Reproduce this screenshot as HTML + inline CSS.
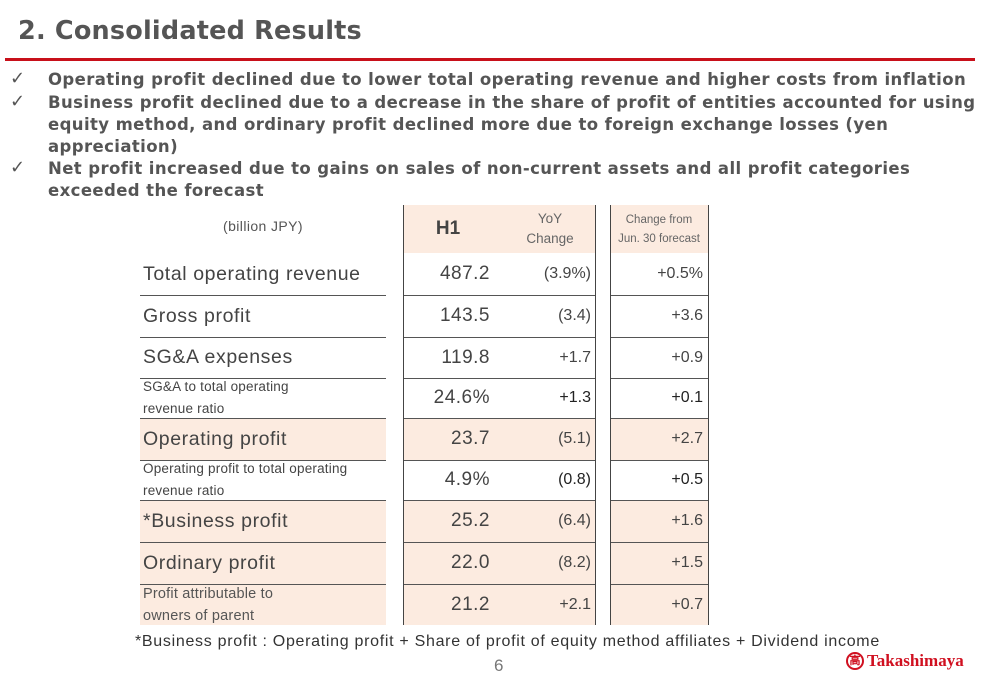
<!DOCTYPE html>
<html><head><meta charset="utf-8"><style>
body{margin:0;width:1000px;height:685px;background:#fff;position:relative;overflow:hidden;font-family:"Liberation Sans","DejaVu Sans",sans-serif;color:#444}
.a{position:absolute}
.title{left:18px;top:16px;font:bold 25.5px "DejaVu Sans",sans-serif;color:#555;letter-spacing:0.2px}
.redline{left:5px;top:58px;width:970px;height:3px;background:#c8101a}
.b{font:bold 16.5px "DejaVu Sans",sans-serif;color:#555;left:48px;line-height:22px;width:945px;white-space:nowrap;letter-spacing:0.4px}
.ck{left:10px;font-size:18px;color:#555}
.row{position:absolute;left:140px;width:568px}
.cell{position:absolute;top:0;height:100%;display:flex;align-items:center}
.lab{left:0;width:246px;padding-left:3px;box-sizing:border-box;font-size:19.5px;letter-spacing:0.6px;color:#444}
.lab.sm{font-size:13.5px;line-height:22px;letter-spacing:0.2px}
.h1{left:263px;width:87px;justify-content:flex-end;font-size:19px;letter-spacing:0.5px}
.yoy{left:375px;width:76px;justify-content:flex-end;font-size:16px}
.fc{left:470px;width:93px;justify-content:flex-end;font-size:16px}
.pk{background:#fcebe0}
.hl{position:absolute;height:1px;background:#555}
.vl{position:absolute;top:205px;height:420px;width:1px;background:#444}
</style></head><body>
<div class="a title">2. Consolidated Results</div>
<div class="a redline"></div>
<div class="a ck" style="top:68px">✓</div>
<div class="a b" style="top:69px">Operating profit declined due to lower total operating revenue and higher costs from inflation</div>
<div class="a ck" style="top:91px">✓</div>
<div class="a b" style="top:92px">Business profit declined due to a decrease in the share of profit of entities accounted for using<br>equity method, and ordinary profit declined more due to foreign exchange losses (yen<br>appreciation)</div>
<div class="a ck" style="top:157px">✓</div>
<div class="a b" style="top:158px">Net profit increased due to gains on sales of non-current assets and all profit categories<br>exceeded the forecast</div>

<div>
<div class="a pk" style="left:403px;top:205px;width:192px;height:48px"></div>
<div class="a pk" style="left:610px;top:205px;width:98px;height:48px"></div>
<div class="a" style="left:140px;top:218px;width:246px;text-align:center;font-size:14px;color:#555;letter-spacing:0.4px">(billion JPY)</div>
<div class="a" style="left:403px;top:218px;width:90px;text-align:center;font-size:19px;font-weight:bold;color:#444">H1</div>
<div class="a" style="left:510px;top:209px;width:80px;text-align:center;font-size:13.5px;line-height:20px;color:#666">YoY<br>Change</div>
<div class="a" style="left:608px;top:211px;width:102px;text-align:center;font-size:11.5px;line-height:19px;color:#666">Change from<br>Jun. 30 forecast</div>

<div class="row" style="top:253px;height:42px"><div class="cell lab">Total operating revenue</div><div class="cell h1">487.2</div><div class="cell yoy">(3.9%)</div><div class="cell fc">+0.5%</div></div>
<div class="row" style="top:295px;height:42px"><div class="cell lab">Gross profit</div><div class="cell h1">143.5</div><div class="cell yoy">(3.4)</div><div class="cell fc">+3.6</div></div>
<div class="row" style="top:337px;height:41px"><div class="cell lab">SG&amp;A expenses</div><div class="cell h1">119.8</div><div class="cell yoy">+1.7</div><div class="cell fc">+0.9</div></div>
<div class="row" style="top:378px;height:40px"><div class="cell lab sm">SG&amp;A to total operating<br>revenue ratio</div><div class="cell h1">24.6%</div><div class="cell yoy" style="color:#222">+1.3</div><div class="cell fc" style="color:#222">+0.1</div></div>
<div class="row" style="top:418px;height:42px"><div class="cell lab pk" style="width:246px">Operating profit</div><div class="cell pk" style="left:263px;width:192px"></div><div class="cell pk" style="left:470px;width:98px"></div><div class="cell h1">23.7</div><div class="cell yoy">(5.1)</div><div class="cell fc">+2.7</div></div>
<div class="row" style="top:460px;height:40px"><div class="cell lab sm">Operating profit to total operating<br>revenue ratio</div><div class="cell h1">4.9%</div><div class="cell yoy" style="color:#222">(0.8)</div><div class="cell fc" style="color:#222">+0.5</div></div>
<div class="row" style="top:500px;height:42px"><div class="cell lab pk" style="width:246px">*Business profit</div><div class="cell pk" style="left:263px;width:192px"></div><div class="cell pk" style="left:470px;width:98px"></div><div class="cell h1">25.2</div><div class="cell yoy">(6.4)</div><div class="cell fc">+1.6</div></div>
<div class="row" style="top:542px;height:42px"><div class="cell lab pk" style="width:246px">Ordinary profit</div><div class="cell pk" style="left:263px;width:192px"></div><div class="cell pk" style="left:470px;width:98px"></div><div class="cell h1">22.0</div><div class="cell yoy">(8.2)</div><div class="cell fc">+1.5</div></div>
<div class="row" style="top:584px;height:41px"><div class="cell lab pk sm" style="width:246px;font-size:14.5px;color:#555">Profit attributable to<br>owners of parent</div><div class="cell pk" style="left:263px;width:192px"></div><div class="cell pk" style="left:470px;width:98px"></div><div class="cell h1">21.2</div><div class="cell yoy">+2.1</div><div class="cell fc">+0.7</div></div>

<div id="lines"></div>
<div class="vl" style="left:403px"></div><div class="vl" style="left:595px"></div>
<div class="vl" style="left:610px"></div><div class="vl" style="left:708px"></div>
</div>

<div class="a" style="left:135px;top:633px;font-size:16px;letter-spacing:0.7px;color:#333;white-space:nowrap">*Business profit : Operating profit + Share of profit of equity method affiliates + Dividend income</div>
<div class="a" style="left:494px;top:656px;font-size:17px;color:#777">6</div>
<div class="a" style="left:846px;top:651px;display:flex;align-items:center;color:#d01020;font:bold 17px 'Liberation Serif',serif"><span style="display:inline-block;width:18px;height:18px;border:2px solid #d01020;border-radius:50%;box-sizing:border-box;font-size:11px;text-align:center;line-height:14px;margin-right:3px">高</span>Takashimaya</div>
<script>
const ys=[295,337,378,418,460,500,542,584];
const c=document.getElementById('lines');
ys.forEach(y=>{[[140,246],[403,192],[610,98]].forEach(([x,w])=>{const d=document.createElement('div');d.className='hl';d.style.left=x+'px';d.style.top=y+'px';d.style.width=w+'px';


c.appendChild(d);});});
</script>
</body></html>
